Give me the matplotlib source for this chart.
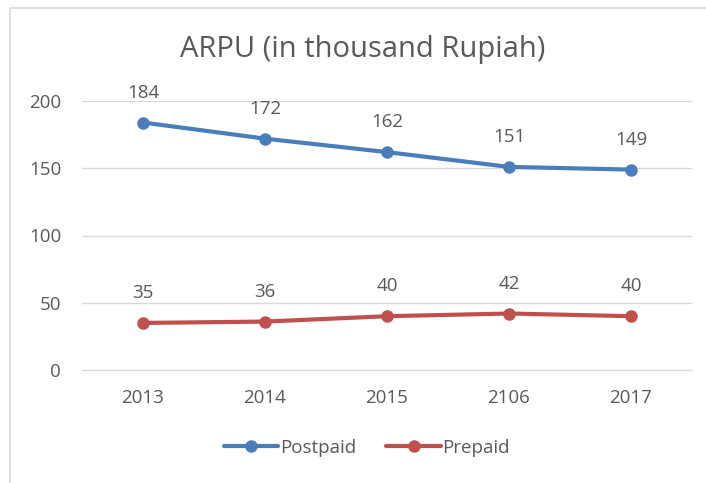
import matplotlib
matplotlib.use("Agg")
from matplotlib import pyplot as plt
from matplotlib.patches import Rectangle

years = ["2013", "2014", "2015", "2106", "2017"]
postpaid = [184, 172, 162, 151, 149]
prepaid = [35, 36, 40, 42, 40]

blue = "#4a7ebb"
red = "#c0504d"
text_color = "#595959"
grid_color = "#d9d9d9"

plt.rcParams['font.family'] = ['Open Sans', 'DejaVu Sans']

fig = plt.figure(figsize=(7.06, 4.83), dpi=100)
fig.patch.set_facecolor("white")

# chart frame (runs off the right and bottom edges)
fig.patches.append(Rectangle((10 / 706, -0.1), 1.2, 1 - 8 / 483 + 0.1,
                             transform=fig.transFigure, fill=False,
                             edgecolor=grid_color, linewidth=1.2))

ax = fig.add_axes([82 / 706, 1 - 370 / 483, 610 / 706, 269 / 483])
x = list(range(len(years)))

ax.plot(x, postpaid, color=blue, linewidth=3, marker="o", markersize=8,
        solid_capstyle="round", label="Postpaid")
ax.plot(x, prepaid, color=red, linewidth=3, marker="o", markersize=8,
        solid_capstyle="round", label="Prepaid")

for xi, v in zip(x, postpaid):
    ax.annotate(str(v), (xi, v), xytext=(0, 15), textcoords="offset points",
                ha="center", va="bottom", fontsize=13.5, color=text_color)
for xi, v in zip(x, prepaid):
    ax.annotate(str(v), (xi, v), xytext=(0, 15), textcoords="offset points",
                ha="center", va="bottom", fontsize=13.5, color=text_color)

ax.set_xlim(-0.5, 4.5)
ax.set_ylim(0, 200)
ax.set_yticks([0, 50, 100, 150, 200])
ax.set_xticks(x)
ax.set_xticklabels(years)
ax.grid(True, axis="y", color=grid_color, linewidth=1)
ax.set_axisbelow(True)
for side in ["top", "right", "left"]:
    ax.spines[side].set_visible(False)
ax.spines["bottom"].set_color(grid_color)
ax.tick_params(axis="both", length=0, labelsize=13.5, colors=text_color)
ax.tick_params(axis="y", pad=15)
ax.tick_params(axis="x", pad=14)

fig.text(363 / 706, 1 - 50 / 483, "ARPU (in thousand Rupiah)", ha="center",
         va="center", fontsize=21, color=text_color)

leg = fig.legend(loc="center", bbox_to_anchor=(367 / 706, 1 - 448 / 483),
                 ncol=2, frameon=False, fontsize=13.5, handlelength=2.9,
                 handletextpad=0.1, columnspacing=1.6)
for t in leg.get_texts():
    t.set_color(text_color)

plt.savefig("out.png", dpi=100)
